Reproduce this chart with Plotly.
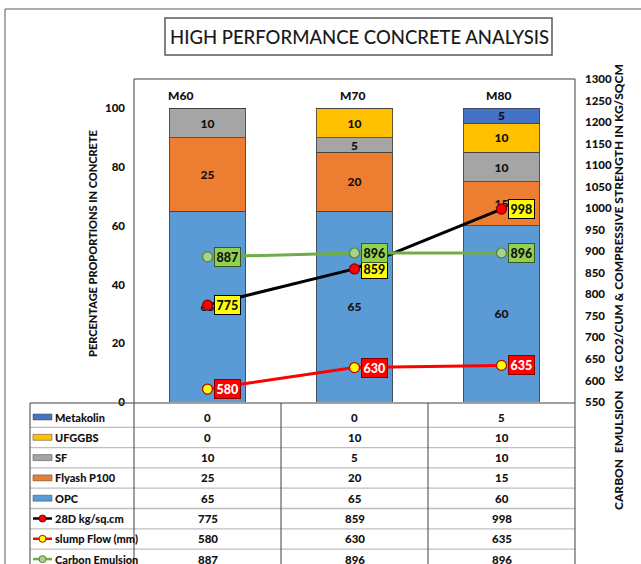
import plotly.graph_objects as go

# ---------------- data ----------------
categories = ["M60", "M70", "M80"]
opc = [65, 65, 60]
flyash = [25, 20, 15]
sf = [10, 5, 10]
ufggbs = [0, 10, 10]
metakolin = [0, 0, 5]
strength_28d = [775, 859, 998]
slump_flow = [580, 630, 635]
carbon_emulsion = [887, 896, 896]

left_ticks = [0, 20, 40, 60, 80, 100]
right_ticks = list(range(550, 1301, 50))

W, H = 641, 564
L, R, T, B = 134, 575, 79, 402  # plot area in px

def px(x):
    return (x - L) / (R - L)

def py(y):
    return (B - y) / (B - T)

FONT = "Lato, sans-serif"
DARK = "#111111"
BOLD = 900

bar_series = [
    ("OPC", opc, "#5B9BD5"),
    ("Flyash P100", flyash, "#ED7D31"),
    ("SF", sf, "#A5A5A5"),
    ("UFGGBS", ufggbs, "#FFC000"),
    ("Metakolin", metakolin, "#4472C4"),
]
line_series = [
    ("28D kg/sq.cm", strength_28d, "#000000", "#FF0000", "#7F0000", "#FFFF00", "#000000", DARK),
    ("slump Flow (mm)", slump_flow, "#FF0000", "#FFFF00", "#C00000", "#FF0000", "#7F0000", "#FFFFFF"),
    ("Carbon Emulsion", carbon_emulsion, "#70AD47", "#A9D18E", "#548235", "#92D050", "#385723", DARK),
]

fig = go.Figure()
for name, vals, col in bar_series:
    fig.add_trace(go.Bar(
        x=categories, y=vals, name=name,
        marker=dict(color=col, line=dict(color="#404040", width=0.8)),
        text=[str(v) if v else "" for v in vals],
        texttemplate="%{text}", textposition="inside", insidetextanchor="middle",
        constraintext="none", textangle=0,
        textfont=dict(family=FONT, size=12, color=DARK, weight=BOLD),
        showlegend=False, hoverinfo="skip",
    ))

annotations = []
for name, vals, lcol, mfill, mline, bg, bc, tc in line_series:
    fig.add_trace(go.Scatter(
        x=categories, y=vals, name=name, yaxis="y2", mode="lines+markers",
        line=dict(color=lcol, width=3),
        marker=dict(size=10, color=mfill, line=dict(color=mline, width=1.2)),
        showlegend=False, cliponaxis=False, hoverinfo="skip",
    ))
    for c, v in zip(categories, vals):
        annotations.append(dict(
            x=c, y=v, xref="x", yref="y2", text=str(v), showarrow=False,
            xanchor="left", yanchor="middle", xshift=6,
            font=dict(family=FONT, size=12.5, color=tc, weight=BOLD),
            bgcolor=bg, bordercolor=bc, borderwidth=1, borderpad=1.5,
        ))

# category labels at top of plot area
cat_shift = [-27, -2, -3]
for c, s in zip(categories, cat_shift):
    annotations.append(dict(
        x=c, y=py(95), xref="x", yref="paper", text=c, showarrow=False,
        xanchor="center", yanchor="middle",
        xshift=s, font=dict(family=FONT, size=12, color=DARK, weight=BOLD),
    ))

# title
annotations.append(dict(
    x=px(359), y=py(37), xref="paper", yref="paper", showarrow=False,
    xanchor="center", yanchor="middle",
    text="HIGH PERFORMANCE CONCRETE ANALYSIS",
    font=dict(family=FONT, size=18.5, color="#1a1a1a", weight=500),
))
# axis titles
annotations.append(dict(
    x=px(92), y=py(244), xref="paper", yref="paper", showarrow=False, textangle=-90,
    xanchor="center", yanchor="middle",
    text="PERCENTAGE PROPORTIONS IN CONCRETE",
    font=dict(family=FONT, size=11, color=DARK, weight=BOLD),
))
annotations.append(dict(
    x=px(618), y=py(287), xref="paper", yref="paper", showarrow=False, textangle=-90,
    xanchor="center", yanchor="middle",
    text="CARBON\u00a0\u00a0EMULSION\u00a0\u00a0\u00a0KG CO2/CUM &amp; COMPRESSIVE STRENGTH IN KG/SQCM",
    font=dict(family=FONT, size=12, color=DARK, weight=BOLD),
))

# ---------------- data table ----------------
row_top = 405
row_h = 20.3
table_rows = [
    ("Metakolin", metakolin, "bar", "#4472C4", None),
    ("UFGGBS", ufggbs, "bar", "#FFC000", None),
    ("SF", sf, "bar", "#A5A5A5", None),
    ("Flyash P100", flyash, "bar", "#ED7D31", None),
    ("OPC", opc, "bar", "#5B9BD5", None),
    ("28D kg/sq.cm", strength_28d, "line", "#000000", ("#FF0000", "#7F0000")),
    ("slump Flow (mm)", slump_flow, "line", "#FF0000", ("#FFFF00", "#C00000")),
    ("Carbon Emulsion", carbon_emulsion, "line", "#70AD47", ("#A9D18E", "#548235")),
]
shapes = []
for i, (name, vals, kind, col, mk) in enumerate(table_rows):
    cy = row_top + 12 + row_h * i
    annotations.append(dict(
        x=px(53), y=py(cy), xref="paper", yref="paper", showarrow=False,
        xanchor="left", yanchor="middle", text=name,
        font=dict(family=FONT, size=11, color=DARK, weight=BOLD),
    ))
    for c, v in zip(categories, vals):
        annotations.append(dict(
            x=c, y=py(cy), xref="x", yref="paper", showarrow=False,
            xanchor="center", yanchor="middle", text=str(v),
            font=dict(family=FONT, size=11.5, color=DARK, weight=BOLD),
        ))
    if kind == "bar":
        shapes.append(dict(type="rect", xref="paper", yref="paper",
                           x0=px(33), x1=px(52), y0=py(cy - 3), y1=py(cy + 3),
                           fillcolor=col, line=dict(color="#404040", width=0.5)))
    else:
        shapes.append(dict(type="line", xref="paper", yref="paper",
                           x0=px(33), x1=px(52), y0=py(cy), y1=py(cy),
                           line=dict(color=col, width=2.5)))
        shapes.append(dict(type="circle", xref="paper", yref="paper",
                           x0=px(39), x1=px(46), y0=py(cy - 3.5), y1=py(cy + 3.5),
                           fillcolor=mk[0], line=dict(color=mk[1], width=1)))
    if i > 0:
        ly = row_top + 2 + row_h * i
        shapes.append(dict(type="line", xref="paper", yref="paper",
                           x0=px(30), x1=px(575), y0=py(ly), y1=py(ly),
                           line=dict(color="#BFBFBF", width=1.3)))

def hline(x0, x1, y, color="#404040", w=1):
    shapes.append(dict(type="line", xref="paper", yref="paper",
                       x0=px(x0), x1=px(x1), y0=py(y), y1=py(y),
                       line=dict(color=color, width=w)))

def vline(x, y0, y1, color="#404040", w=1):
    shapes.append(dict(type="line", xref="paper", yref="paper",
                       x0=px(x), x1=px(x), y0=py(y0), y1=py(y1),
                       line=dict(color=color, width=w)))

# plot frame and table grid
hline(134, 575, 79)
hline(30, 575, 403)
vline(134, 79, 564)
vline(575, 79, 564)
vline(30, 403, 564)
vline(281, 403, 564)
vline(428, 403, 564)
# outer chart border
hline(5, 641, 9, "#595959")
vline(5, 9, 564, "#595959")
# title box
shapes.append(dict(type="rect", xref="paper", yref="paper",
                   x0=px(165), x1=px(552), y0=py(55), y1=py(18),
                   line=dict(color="#595959", width=1.5)))

fig.update_layout(
    width=W, height=H,
    margin=dict(l=L, r=W - R, t=T, b=H - B, pad=0),
    paper_bgcolor="white", plot_bgcolor="white",
    barmode="stack", bargap=0.48,
    font=dict(family=FONT, color=DARK),
    xaxis=dict(showticklabels=False, showgrid=False, zeroline=False, showline=False,
               ticks="", fixedrange=True),
    yaxis=dict(range=[0, 110], tickvals=left_ticks, showgrid=False, zeroline=False,
               showline=False, ticks="", ticklabelstandoff=8,
               tickfont=dict(family=FONT, size=11.5, color=DARK, weight=BOLD)),
    yaxis2=dict(range=[550, 1300], tickvals=right_ticks, overlaying="y", side="right",
                showgrid=False, zeroline=False, showline=False, ticks="",
                ticklabelstandoff=9,
                tickfont=dict(family=FONT, size=11.5, color=DARK, weight=BOLD)),
    annotations=annotations,
    shapes=shapes,
    showlegend=False,
)

fig.write_html("out.html", config={"displayModeBar": False},
               post_script="document.body.style.margin='0px';")
